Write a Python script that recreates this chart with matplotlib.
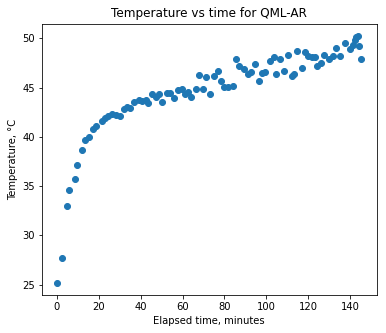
import matplotlib
matplotlib.use("Agg")
import matplotlib.pyplot as plt

elapsed_min = [0.0, 2.2, 4.6, 6.0, 8.4, 9.8, 12.2, 13.6, 15.3, 17.0,
               18.6, 21.5, 22.9, 24.3, 26.2, 28.1, 29.9, 31.9, 33.3, 35.0,
               37.0, 39.0, 40.7, 42.4, 43.6, 45.6, 47.3, 48.5, 50.4, 52.5,
               54.1, 55.7, 57.6, 59.5, 61.0, 62.7, 64.1, 66.6, 68.0, 69.8,
               71.4, 73.3, 75.2, 77.1, 78.5, 80.0, 81.8, 84.2, 85.6, 87.1,
               89.1, 91.0, 92.7, 94.8, 96.3, 97.9, 99.5, 101.8, 103.4, 104.8,
               106.6, 108.4, 110.1, 112.2, 113.4, 114.8, 116.8, 118.5, 120.1, 121.7,
               123.3, 124.3, 125.9, 127.6, 129.8, 131.6, 133.1, 135.2, 137.6, 139.7,
               141.3, 142.1, 143.0, 143.7, 144.4, 145.4]
temperature_c = [25.2, 27.7, 33.0, 34.6, 35.75, 37.15, 38.7, 39.7, 40.0, 40.8,
                 41.05, 41.6, 41.9, 42.1, 42.3, 42.25, 42.1, 42.8, 43.05, 42.95,
                 43.55, 43.7, 43.65, 43.75, 43.45, 44.35, 44.0, 44.3, 43.55, 44.4,
                 44.4, 43.95, 44.75, 44.85, 44.35, 44.6, 44.0, 44.85, 46.3, 44.85,
                 46.1, 44.3, 46.15, 46.7, 45.7, 45.1, 45.1, 45.2, 47.9, 47.2,
                 46.85, 46.35, 46.55, 47.4, 45.7, 46.45, 46.6, 47.7, 48.15, 46.4,
                 47.9, 46.7, 48.3, 46.2, 46.4, 48.7, 47.0, 48.6, 48.25, 48.1,
                 48.1, 47.15, 47.45, 48.3, 47.9, 48.2, 49.0, 48.2, 49.5, 48.95,
                 49.35, 49.85, 50.1, 50.25, 49.2, 47.95]

title = "Temperature vs time for QML-AR"
xlabel = "Elapsed time, minutes"
ylabel = "Temperature, °C"

plt.rcParams['font.family'] = ['DejaVu Sans']
fig = plt.figure(figsize=(386/72, 333/72), dpi=72)
ax = fig.add_axes([41.7/386, 1 - 295/333, 335/386, 271.5/333])
ax.scatter(elapsed_min, temperature_c, color='#1f77b4', s=36)
ax.set_title(title, fontsize=12)
ax.set_xlabel(xlabel, fontsize=10)
ax.set_ylabel(ylabel, fontsize=10)
ax.tick_params(labelsize=10)
fig.savefig("out.png", dpi=72)
